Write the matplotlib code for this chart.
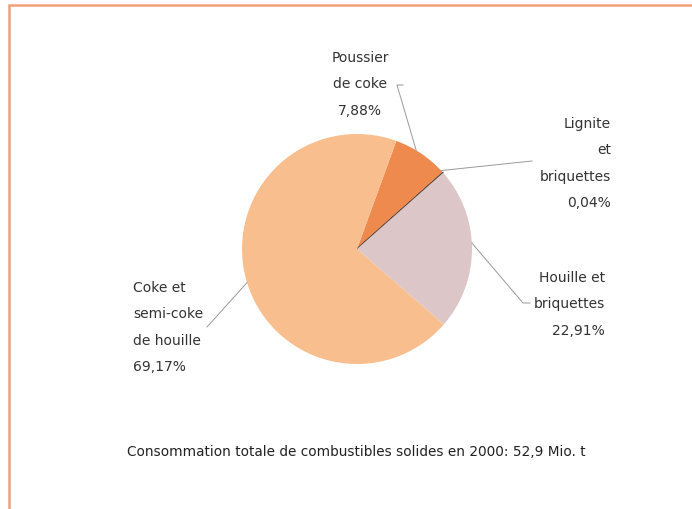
import numpy as np
import matplotlib
matplotlib.use("Agg")
import matplotlib.pyplot as plt
from matplotlib.patches import Rectangle

categories = ["Poussier\nde coke", "Lignite\net\nbriquettes", "Houille et\nbriquettes", "Coke et\nsemi-coke\nde houille"]
values = [7.88, 0.04, 22.91, 69.17]
value_labels = ["7,88%", "0,04%", "22,91%", "69,17%"]
colors = ["#EE8A4E", "#5a4a44", "#DCC6C7", "#F9BE8E"]
footer = "Consommation totale de combustibles solides en 2000: 52,9 Mio. t"

W, H = 692, 510
fig = plt.figure(figsize=(W / 100, H / 100), dpi=100)
ax = fig.add_axes([0, 0, 1, 1])

cx, cy, R = 357, H - 250, 115
wedges, _ = ax.pie(values, colors=colors, startangle=70, counterclock=False,
                   center=(cx, cy), radius=R, frame=True,
                   wedgeprops=dict(linewidth=0))
wedges[1].set_edgecolor("#5a4a44")
wedges[1].set_linewidth(1.0)
ax.set_xlim(0, W)
ax.set_ylim(0, H)
ax.set_aspect("equal")
ax.axis("off")

txt_kw = dict(fontsize=10, color="#333333", linespacing=2.12, family="DejaVu Sans")

# label layout: text anchor (px), alignment, leader elbow points (px), leader angle on rim (deg)
layouts = [
    dict(x=360, y=51, ha="center", elbow=[(397, 86), (403, 86)], ang=59),
    dict(x=611, y=117, ha="right", elbow=[(532, 162)], ang=43),
    dict(x=605, y=271, ha="right", elbow=[(523, 304), (530, 304)], ang=3),
    dict(x=133, y=281, ha="left", elbow=[(207, 328)], ang=197),
]

for w, cat, vl, lay in zip(wedges, categories, value_labels, layouts):
    label = cat + "\n" + vl
    ax.text(lay["x"], H - lay["y"], label, ha=lay["ha"], va="top", **txt_kw)
    a = np.deg2rad(lay["ang"])
    px, py = cx + R * np.cos(a), cy + R * np.sin(a)
    pts = [(px, py)] + [(ex, H - ey) for ex, ey in lay["elbow"]]
    xs, ys = zip(*pts)
    ax.plot(xs, ys, color="#9a9a9a", lw=0.7)

ax.text(356, H - 452, footer, ha="center", va="center", fontsize=9.8,
        color="#222222", family="DejaVu Sans")

ax.add_patch(Rectangle((9, -20), W + 20, H - 6 + 20, fill=False,
                       edgecolor="#F2A07A", lw=1.8))

fig.savefig("out.png", dpi=100)
